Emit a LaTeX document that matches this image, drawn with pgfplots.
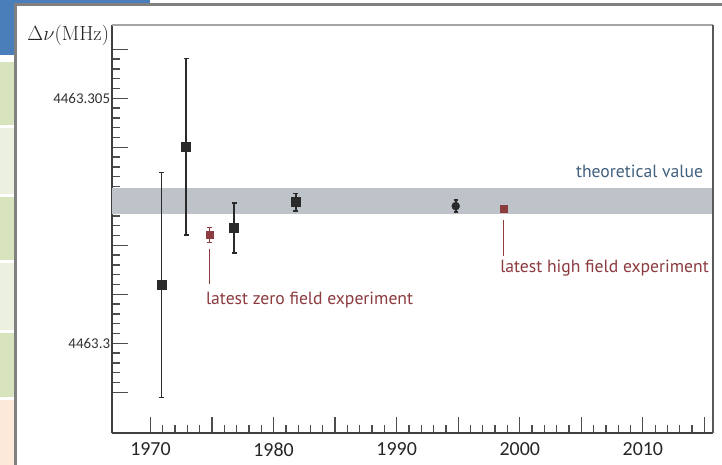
\RequirePackage{fix-cm}
\documentclass[border=0pt]{standalone}
\usepackage{pgfplots}
\pgfplotsset{compat=1.18}
\usepackage{pgfplotstable}
\usepackage[no-math]{fontspec}
\setmainfont{PT Sans}
\newfontfamily\carlito{Carlito}
\newcommand\xlab[1]{{\carlito\fontsize{20}{20}\selectfont #1}}
\newcommand\ylab[1]{{\carlito\fontsize{15}{15}\selectfont #1}}

\definecolor{slideblue}{HTML}{4A7EBB}
\definecolor{stripgreen}{HTML}{D7E4BD}
\definecolor{striplight}{HTML}{EBF1DE}
\definecolor{strippeach}{HTML}{FDE9D9}
\definecolor{framegray}{HTML}{808080}
\definecolor{bandgray}{HTML}{BEC3CA}
\definecolor{theoblue}{HTML}{41607E}
\definecolor{expred}{HTML}{8C3B3F}
\definecolor{pointblack}{HTML}{2A2A2A}

% Muonium hyperfine splitting, offset from 4463.3 MHz, in kHz
\pgfplotstableread{
year    dnu    err
1970.9  1.19   2.30
1972.9  4.01   1.80
1976.8  2.35   0.51
1981.8  2.88   0.18
}\blackdata
\pgfplotstableread{
year    dnu    err
1994.8  2.80   0.12
}\dotdata
\pgfplotstableread{
year    dnu    err
1974.8  2.21   0.15
}\zerofield
\pgfplotstableread{
year    dnu    err
1998.7  2.755  0.0
}\highfield
% theory band: 2.898 +- 0.265
\pgfplotstableread{
year    dnu
1966.9  2.633
2015.7  2.633
2015.7  3.163
1966.9  3.163
}\theoryband

\begin{document}
\begin{tikzpicture}
\useasboundingbox (0,0) rectangle (722bp,-465bp);
% slide background
\fill[white] (0,0) rectangle (722bp,-465bp);
\fill[slideblue] (0,0) rectangle (150bp,-55bp);
\fill[stripgreen] (0,-62bp) rectangle (15bp,-125bp);
\fill[striplight] (0,-128bp) rectangle (15bp,-194bp);
\fill[stripgreen] (0,-197bp) rectangle (15bp,-260bp);
\fill[striplight] (0,-263bp) rectangle (15bp,-330bp);
\fill[stripgreen] (0,-333bp) rectangle (15bp,-397bp);
\fill[strippeach] (0,-400bp) rectangle (15bp,-465bp);
\fill[white] (16bp,-5bp) rectangle (722bp,-465bp);
\draw[framegray, line width=2.5bp] (15.5bp,-470bp) -- (15.5bp,-4.3bp) -- (730bp,-4.3bp);

\begin{axis}[
  at={(112.3bp,-432.7bp)}, anchor=south west,
  scale only axis, width=600.7bp, height=407.7bp,
  xmin=1966.9, xmax=2015.7, ymin=-1.824, ymax=6.496,
  axis x line*=bottom, axis y line*=left,
  axis line style={-, line width=1.8bp, draw=black!75},
  tick align=inside,
  major tick length=16bp, minor tick length=8bp,
  tick style={line width=1.3bp, draw=black!70},
  xtick={1970,1975,...,2015},
  xticklabels={\xlab{1970},,\xlab{1980},,\xlab{1990},,\xlab{2000},,\xlab{2010},},
  minor x tick num=4,
  ytick={-1,0,...,6},
  yticklabels={,\ylab{4463.3},,,,,\ylab{4463.305},},
  minor y tick num=4,
  /pgf/number format/assume math mode=true,
  xticklabel style={text=black!85, inner sep=0pt, yshift=-10bp},
  yticklabel style={text=black!80, inner sep=0pt, xshift=-2bp},
  clip=false,
]
% theoretical value band
\addplot[draw=none, fill=bandgray] table[x=year, y=dnu] {\theoryband} -- cycle;

% earlier measurements
\addplot[only marks, mark=square*, mark size=4.5bp, color=pointblack,
  error bars/.cd, y dir=both, y explicit,
  error bar style={line width=1.8bp, pointblack},
  error mark options={rotate=90, line width=1.5bp, mark size=2.5bp, pointblack}]
  table[x=year, y=dnu, y error=err] {\blackdata};
\addplot[only marks, mark=*, mark size=4bp, color=pointblack,
  error bars/.cd, y dir=both, y explicit,
  error bar style={line width=1.8bp, pointblack},
  error mark options={rotate=90, line width=1.5bp, mark size=2bp, pointblack}]
  table[x=year, y=dnu, y error=err] {\dotdata};

% latest experiments
\addplot[only marks, mark=square*, mark size=3.6bp, color=expred,
  error bars/.cd, y dir=both, y explicit,
  error bar style={line width=1.5bp, expred},
  error mark options={rotate=90, line width=1.5bp, mark size=2.5bp, expred}]
  table[x=year, y=dnu, y error=err] {\zerofield};
\addplot[only marks, mark=square*, mark size=3.5bp, color=expred]
  table[x=year, y=dnu] {\highfield};

% top and right frame of the plot
\draw[black!35, line width=1.5bp] (rel axis cs:0,1) -- (rel axis cs:1,1);
\draw[black!65, line width=2bp] (rel axis cs:1,1) -- (rel axis cs:1,0);

% axis title
\node[anchor=north east, inner sep=0pt, font=\fontsize{20.6}{20.6}\selectfont, text=black!85]
  at (rel axis cs:0,1) [xshift=-3bp] {$\Delta\nu(\mathrm{MHz})$};

% annotations
\draw[expred, line width=1bp] (axis cs:1974.8,1.924) -- (axis cs:1974.8,1.210);
\draw[expred, line width=1bp] (axis cs:1998.7,2.516) -- (axis cs:1998.7,1.782);
\node[anchor=base west, inner sep=0pt, text=expred, font=\fontsize{17.7}{17.7}\selectfont]
  at (axis cs:1974.5,0.802) {latest zero field experiment};
\node[anchor=base west, inner sep=0pt, text=expred, font=\fontsize{17.7}{17.7}\selectfont]
  at (axis cs:1998.4,1.455) {latest high field experiment};
\node[anchor=base east, inner sep=0pt, text=theoblue, font=\fontsize{17.7}{17.7}\selectfont]
  at (axis cs:2014.9,3.394) {theoretical value};
\end{axis}
\end{tikzpicture}
\end{document}
